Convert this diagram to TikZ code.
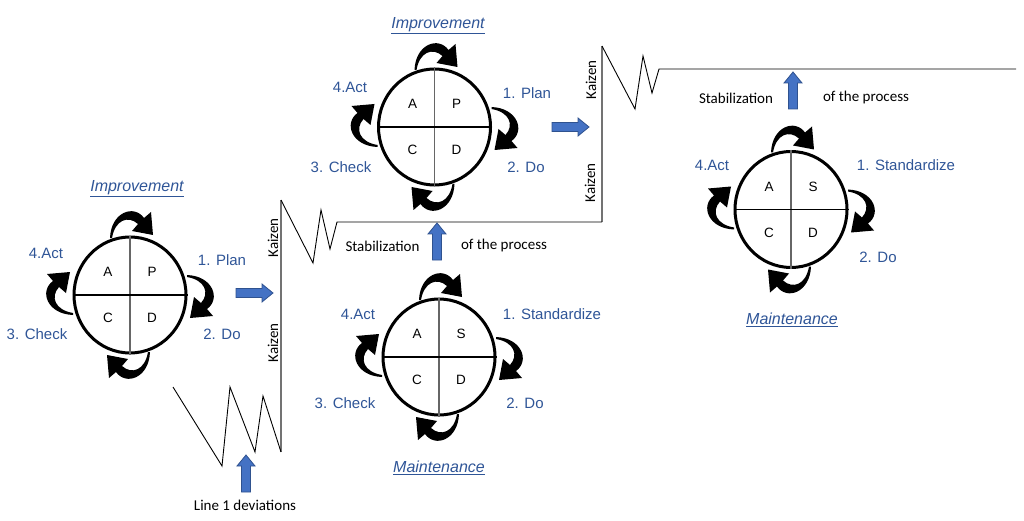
\documentclass[tikz,border=0pt]{standalone}
\usepackage{fontspec}
\setmainfont{Liberation Sans}
\newfontfamily\calfont{Carlito}
\usetikzlibrary{shapes.geometric,calc}
\definecolor{lblue}{HTML}{2F5597}
\definecolor{afill}{HTML}{4472C4}
\definecolor{aedge}{HTML}{2F528F}
\tikzset{
  carrow/.pic={\fill[black] (-20,-57) .. controls (-19,-83) and (4,-91) .. (14,-77) -- (21,-83) -- (23,-60) -- (2,-64) -- (8,-71) .. controls (-2,-80) and (-15,-75) .. (-18,-57) -- cycle;},
  barrow/.pic={\filldraw[fill=afill, draw=aedge, line width=0.8pt] (0,-4.5) -- (26,-4.5) -- (26,-9) -- (37,0) -- (26,9) -- (26,4.5) -- (0,4.5) -- cycle;}
}
\begin{document}
\begin{tikzpicture}[x=1pt,y=-1pt,
  pdca/.style={draw, line width=3pt, ellipse, minimum width=112pt, minimum height=116pt, inner sep=0pt},
  lab/.style={text=lblue, font=\fontsize{15}{18}\selectfont, inner sep=0pt},
  ttl/.style={text=lblue, font=\fontsize{16}{19}\selectfont\itshape, inner sep=0pt},
  qletter/.style={font=\fontsize{13.5}{15}\selectfont, inner sep=0pt},
  cal/.style={font=\calfont\fontsize{15}{18}\selectfont, inner sep=0pt},
  vdiv/.style={draw=black!60, line width=1.5pt},
  hdiv/.style={draw=black, line width=1.5pt},
  kaxis/.style={draw=black!55, line width=1.5pt},
  zig/.style={draw=black, line width=0.9pt, line join=miter}
]
\useasboundingbox (0,0) rectangle (1024,521);

% ---------- circles ----------
\foreach \n/\cx/\cy/\b in {c1/130/295/P, c2/434.5/127/P, c3/439/357/S, c4/791/209.5/S}{
  \node[pdca] (\n) at (\cx,\cy) {};
  \draw[vdiv] (\n.north) -- (\n.south);
  \draw[hdiv] (\n.west) -- (\n.east);
  \node[qletter] (\n-a) at ($(\n.center)+(-22,-23)$) {A};
  \node[qletter] (\n-b) at ($(\n.center)+(22,-23)$) {\b};
  \node[qletter] (\n-c) at ($(\n.center)+(-22,23)$) {C};
  \node[qletter] (\n-d) at ($(\n.center)+(22,23)$) {D};
  \pic at (\n.center) {carrow};
  \pic[rotate=-90] at (\n.center) {carrow};
  \pic[rotate=180] at (\n.center) {carrow};
  \pic[rotate=90] at (\n.center) {carrow};
}

% ---------- labels ----------
\node[ttl] (t1) at (137,189) {\underline{Improvement}};
\node[lab] (l1a) at (46,253) {4.Act};
\node[lab] (l1p) at (222,260) {1. Plan};
\node[lab] (l1c) at (37,334) {3. Check};
\node[lab] (l1d) at (222,334) {2. Do};

\node[ttl] (t2) at (438,26) {\underline{Improvement}};
\node[lab] (l2a) at (350,87) {4.Act};
\node[lab] (l2p) at (527,93) {1. Plan};
\node[lab] (l2c) at (341,167) {3. Check};
\node[lab] (l2d) at (526,167) {2. Do};

\node[lab] (l3a) at (358,314) {4.Act};
\node[lab] (l3s) at (552,314) {1. Standardize};
\node[lab] (l3c) at (345,403) {3. Check};
\node[lab] (l3d) at (525,403) {2. Do};
\node[ttl] (t3) at (439,468) {\underline{Maintenance}};

\node[lab] (l4a) at (712,165) {4.Act};
\node[lab] (l4s) at (906,165) {1. Standardize};
\node[lab] (l4d) at (878,257) {2. Do};
\node[ttl] (t4) at (792,320) {\underline{Maintenance}};

% ---------- process lines ----------
\coordinate (k1b) at (281,452);
\coordinate (k1t) at (281,200);
\coordinate (k2b) at (602,222);
\coordinate (k2t) at (602,46);
\draw[kaxis] (k1b) -- (k1t);
\draw[kaxis] (k2b) -- (k2t);
\draw[zig] (173,387) -- (222,466) -- (230,387) -- (255,452) -- (263,396) -- (k1b);
\draw[zig] (k1t) -- (313,263) -- (321,210) -- (330,249) -- (337,222) -- (k2b);
\draw[zig] (k2t) -- (635,109) -- (643,56) -- (652,93) -- (659,69) -- (1016,69);

\node[cal, rotate=90] (kz1) at (273,238) {Kaizen};
\node[cal, rotate=90] (kz2) at (273,343) {Kaizen};
\node[cal, rotate=90] (kz3) at (591,80) {Kaizen};
\node[cal, rotate=90] (kz4) at (590,183) {Kaizen};

\node[cal] (s1) at (382.5,246) {Stabilization};
\node[cal] (p1) at (504,246) {of the process};
\node[cal] (s2) at (736,98) {Stabilization};
\node[cal] (p2) at (866,98) {of the process};
\node[cal] (dev) at (245,505) {Line 1 deviations};

% ---------- block arrows ----------
\pic at (236,293) {barrow};
\pic[rotate=90] at (246,492) {barrow};
\pic at (552,127) {barrow};
\pic[rotate=90] at (437,260) {barrow};
\pic[rotate=90] at (793,109) {barrow};
\end{tikzpicture}
\end{document}
